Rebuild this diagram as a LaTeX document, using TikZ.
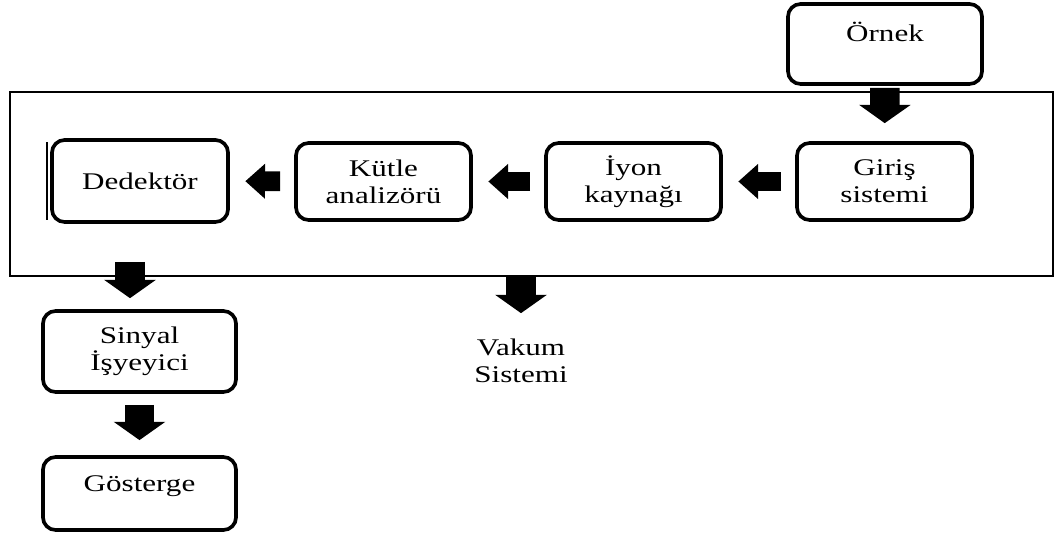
\documentclass[tikz,border=0pt]{standalone}
\usepackage{fontspec}
\setmainfont{Liberation Serif}[FakeStretch=1.3]
\usetikzlibrary{arrows.meta,positioning}

\begin{document}
\begin{tikzpicture}[x=0.025cm,y=-0.025cm]
      \tikzstyle{every node}=[font=\fontsize{17}{19}\selectfont, align=center]
      \tikzstyle{unit}=[draw, line width=2.6pt, rounded corners=9pt, minimum width=4.375cm, minimum height=1.925cm]
      \tikzstyle{bigarrow}=[line width=21pt, -{Triangle[length=13pt,width=36pt]}]
      \tikzstyle{smallarrow}=[line width=14pt, -{Triangle[length=14pt,width=24pt]}, shorten <=10pt, shorten >=11pt]
      \useasboundingbox (0,0) rectangle (1056,536);

      % vacuum chamber
      \node[draw, line width=1.2pt, minimum width=26.075cm, minimum height=4.6cm] (frame) at (531.5,184) {};

      \node[unit, minimum width=4.85cm, minimum height=2cm, text depth=18pt] (ornek) at (885,44) {Örnek};
      \node[unit] (giris) at (884.5,181.5) {Giriş\\sistemi};
      \node[unit] (iyon)  at (633.5,181.5) {İyon\\kaynağı};
      \node[unit] (kutle) at (383.5,181.5) {Kütle\\analizörü};
      \node[unit, minimum width=4.4cm, minimum height=2.05cm] (dedektor) at (140,181) {Dedektör};
      \node[unit, minimum width=4.825cm, minimum height=2.025cm] (sinyal) at (139.5,351.5) {Sinyal\\İşyeyici};
      \node[unit, minimum width=4.825cm, minimum height=1.825cm, text depth=13.5pt] (gosterge) at (139.5,493.5) {Gösterge};
      \node (vakum) at (521,361) {Vakum\\Sistemi};

      \draw[line width=0.8pt] ([xshift=-2.2pt,yshift=-3pt]dedektor.north west) -- ([xshift=-2.2pt,yshift=3pt]dedektor.south west);

      \coordinate (dout) at (130,262);
      \coordinate (vout) at (521,277);

      \draw[bigarrow, shorten <=1.5pt, shorten >=12.8pt] (ornek) -- (giris);
      \draw[smallarrow] (giris) -- (iyon);
      \draw[smallarrow] (iyon) -- (kutle);
      \draw[smallarrow] (kutle) -- (dedektor);
      \draw[bigarrow, shorten >=7.8pt] (dout) -- (dout |- sinyal.north);
      \draw[bigarrow, shorten >=15pt] (vout) -- (vakum.north);
      \draw[bigarrow, shorten <=7.8pt, shorten >=10.7pt] (sinyal) -- (gosterge);
\end{tikzpicture}
\end{document}
